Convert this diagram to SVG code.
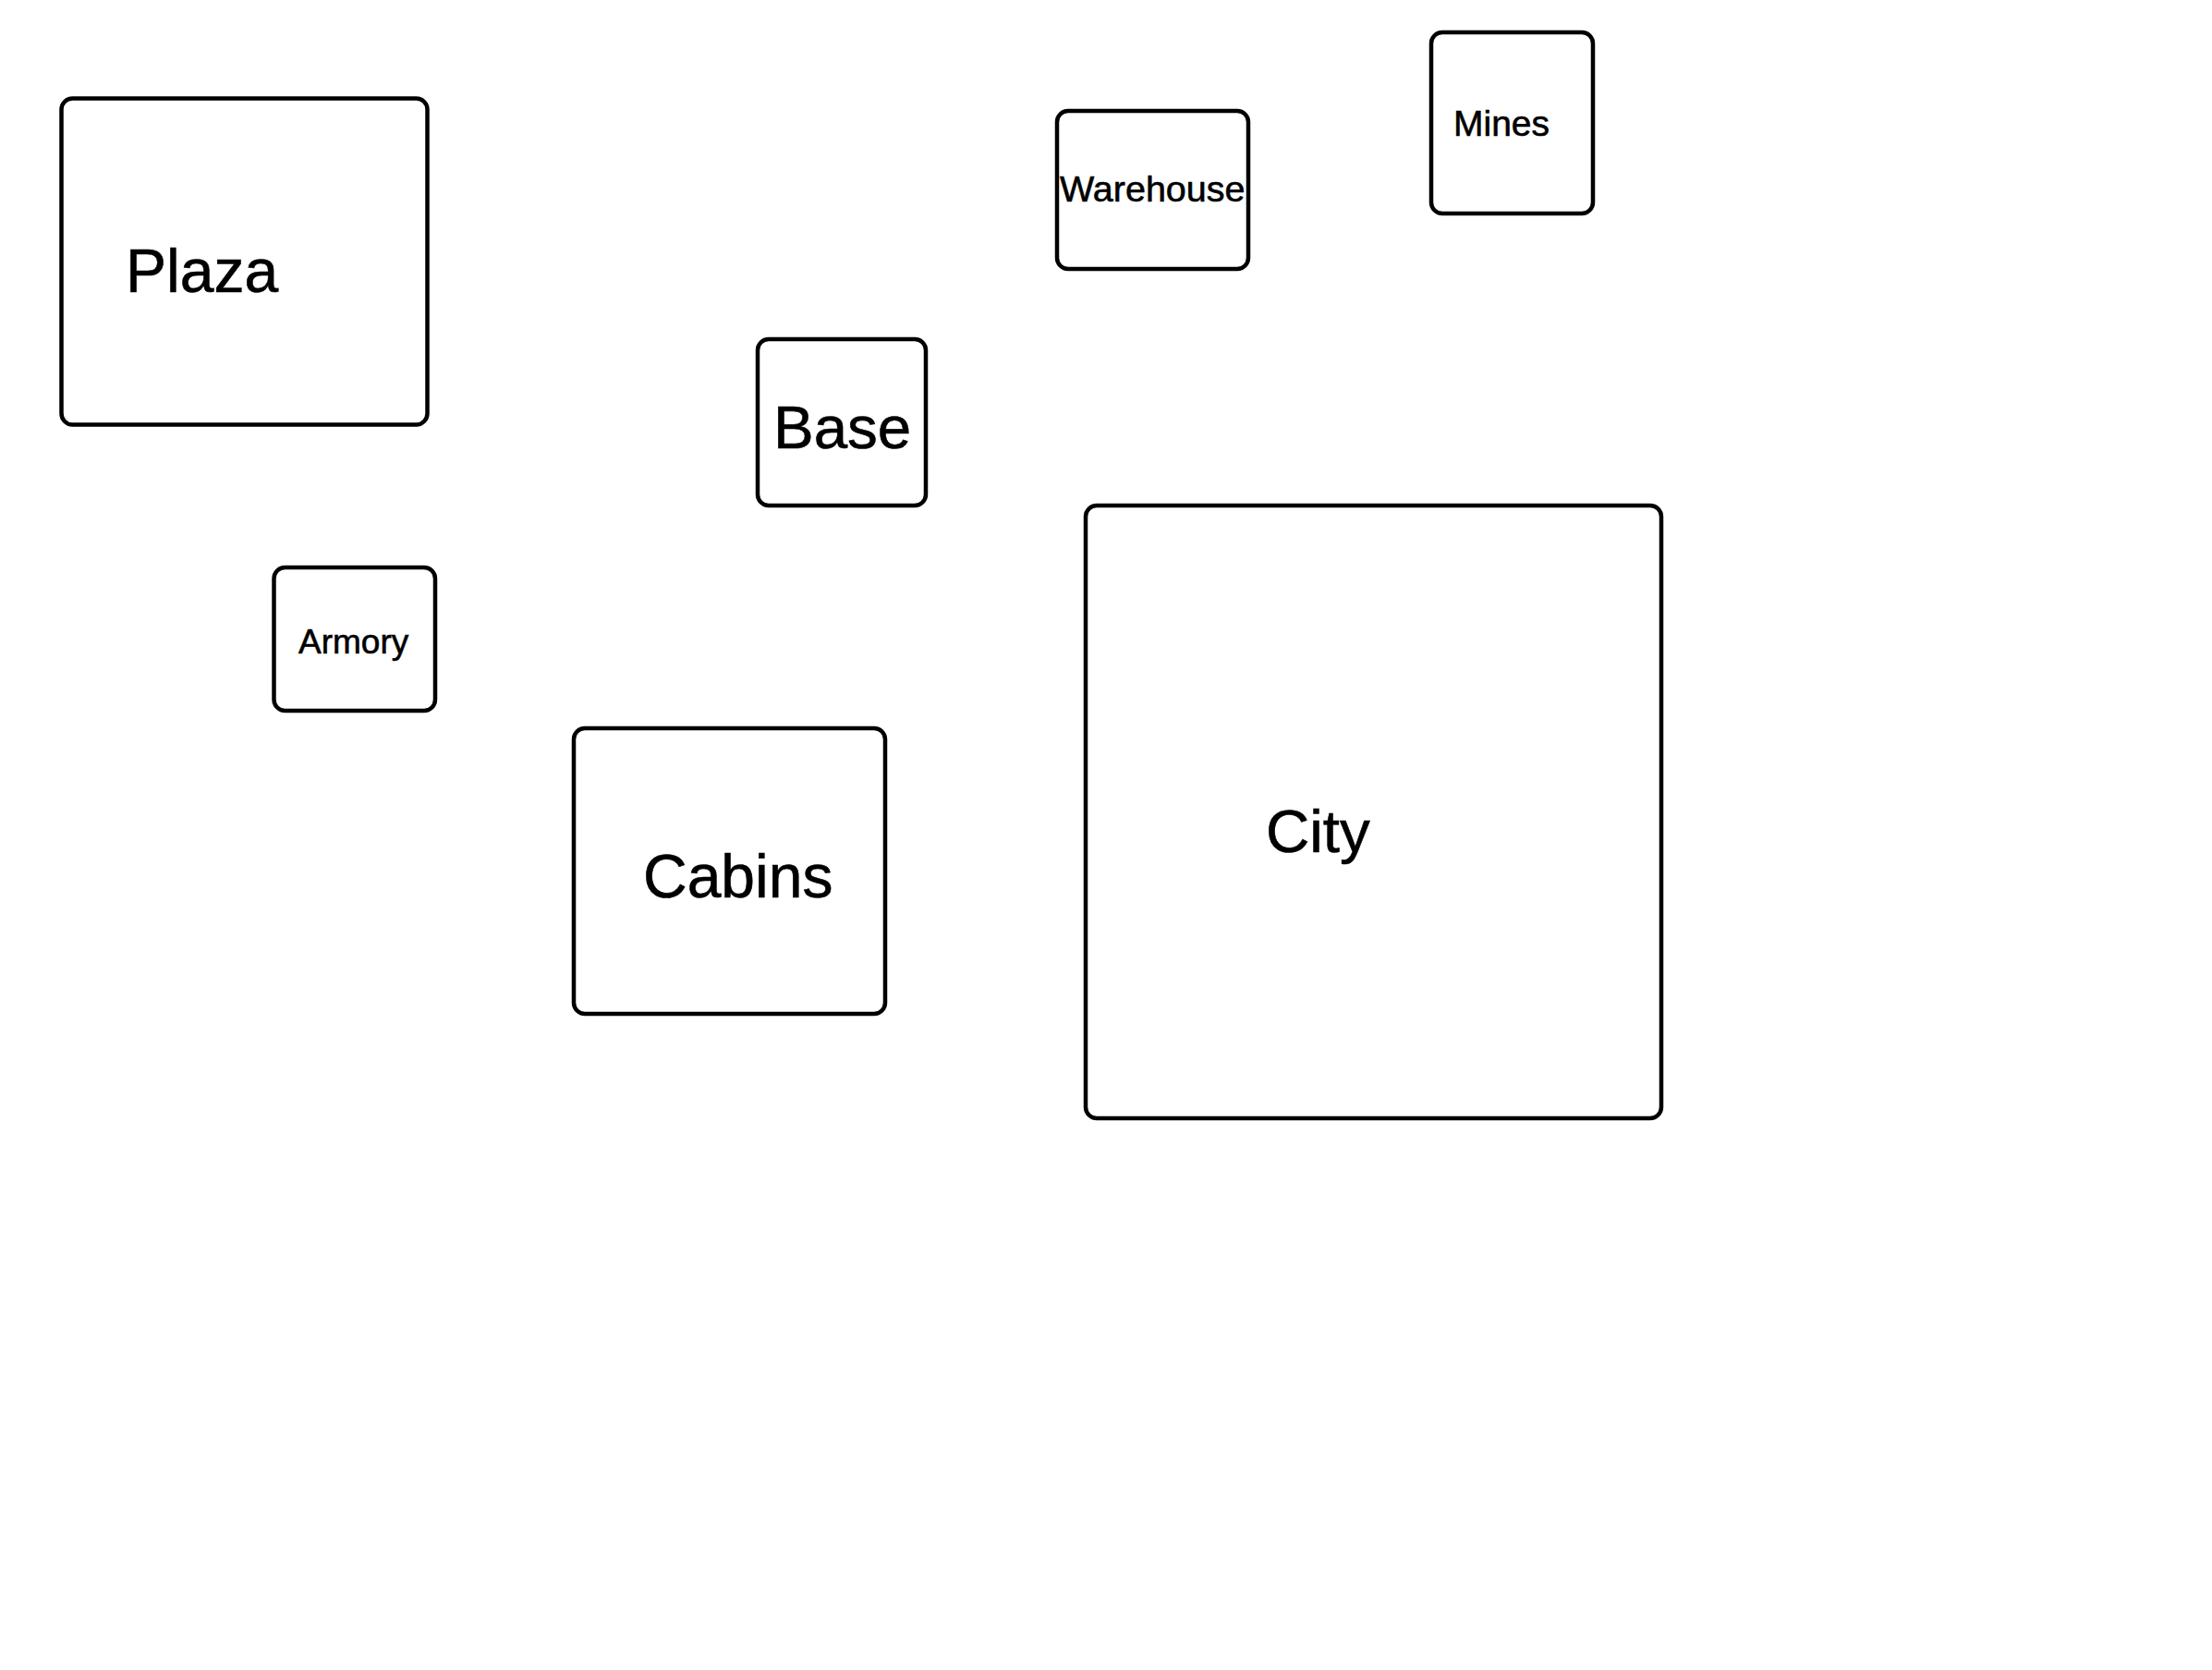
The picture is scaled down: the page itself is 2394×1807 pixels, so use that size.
<svg xmlns="http://www.w3.org/2000/svg" width="2394" height="1807" viewBox="0 0 2394 1807">
<style>
.box{fill:#ffffff;stroke:#000000;stroke-width:4.5}
.lbl{font-family:"Liberation Sans",Arial,sans-serif;fill:#000000;stroke:#000000;stroke-width:0.6}
</style>
<rect x="0" y="0" width="2394" height="1807" fill="#ffffff"/>
<g id="connectors"></g>
<g id="plaza"><rect class="box" x="66.5" y="106.5" width="396" height="353" rx="12"/><text class="lbl" x="136" y="316" font-size="66">Plaza</text></g>
<g id="warehouse"><rect class="box" x="1144" y="120" width="207" height="171" rx="12"/><text class="lbl" x="1147" y="218" font-size="39.5">Warehouse</text></g>
<g id="mines"><rect class="box" x="1549" y="35" width="175" height="196" rx="12"/><text class="lbl" x="1573" y="147" font-size="39">Mines</text></g>
<g id="base"><rect class="box" x="820" y="367" width="182" height="180" rx="12"/><text class="lbl" x="837" y="485" font-size="65.5">Base</text></g>
<g id="armory"><rect class="box" x="296.5" y="614" width="174.5" height="155" rx="12"/><text class="lbl" x="323" y="707" font-size="37">Armory</text></g>
<g id="cabins"><rect class="box" x="621" y="788" width="337" height="309" rx="12"/><text class="lbl" x="696" y="971" font-size="66">Cabins</text></g>
<g id="city"><rect class="box" x="1175" y="547" width="623" height="663" rx="12"/><text class="lbl" x="1370" y="922" font-size="65.5">City</text></g>
</svg>
